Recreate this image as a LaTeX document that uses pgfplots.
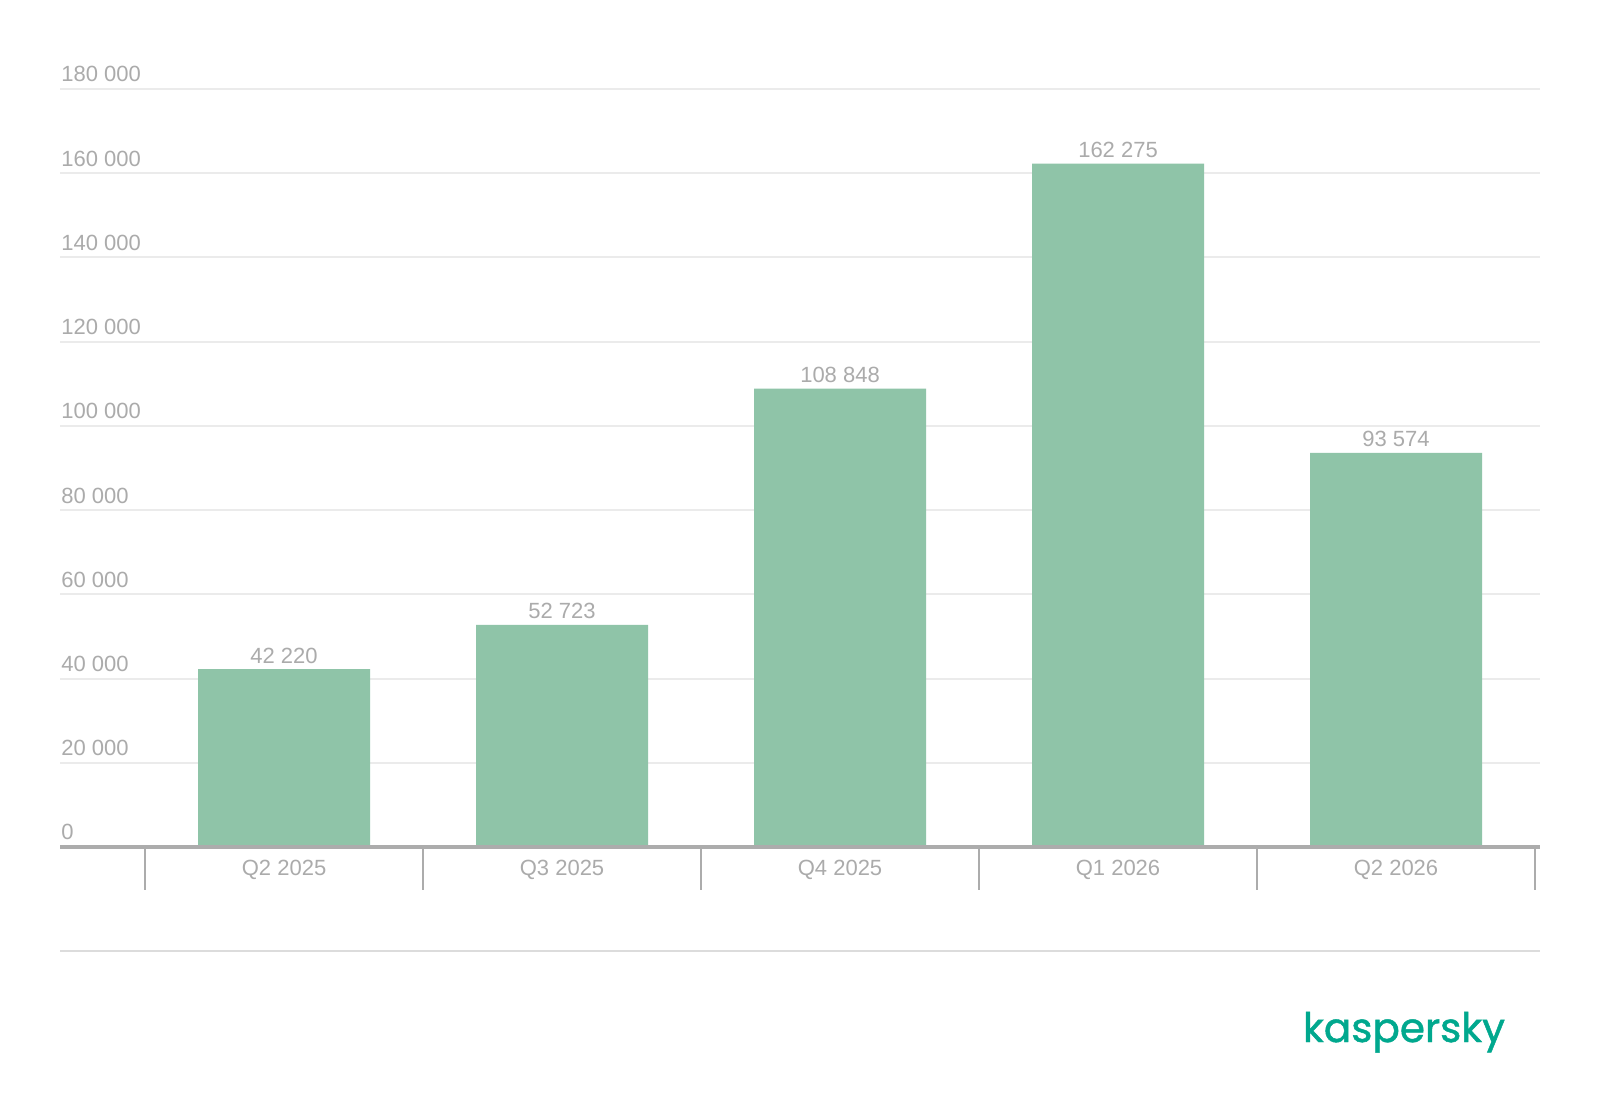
\documentclass[border=0pt]{standalone}
\usepackage{pgfplots}
\pgfplotsset{compat=1.18}
\usepackage{fontspec}
\setmainfont{Liberation Sans}
\newfontfamily\logofont{Poppins}[FakeBold=1.2]
\definecolor{bargreen}{HTML}{8FC4A8}
\definecolor{txtgray}{HTML}{ABABAB}
\definecolor{gridgray}{HTML}{EBEBEB}
\definecolor{axisgray}{HTML}{ACACAC}
\definecolor{linegray}{HTML}{DCDCDC}
\definecolor{kgreen}{HTML}{00A88E}
\begin{document}
\begin{tikzpicture}
\useasboundingbox[fill=white] (0,0) rectangle (800pt,557pt);
\begin{axis}[
  at={(30pt,133.5pt)}, anchor=south west,
  scale only axis, width=740pt, height=379pt,
  xmin=-0.806, xmax=4.518, ymin=0, ymax=180000,
  axis line style={draw=none},
  ybar, bar width=86pt,
  ytick={0,20000,...,180000},
  ymajorgrids, grid style={draw=gridgray, line width=1pt},
  scaled y ticks=false,
  /pgf/number format/assume math mode=true,
  /pgf/number format/.cd, fixed, precision=0, 1000 sep={\ },
  /pgfplots/.cd,
  yticklabel style={anchor=south west, inner sep=0pt, xshift=0.5pt, yshift=3.2pt, font=\fontsize{11}{13}\selectfont, text=txtgray},
  ytick style={draw=none},
  xtick={0,1,2,3,4},
  xticklabels={Q2 2025,Q3 2025,Q4 2025,Q1 2026,Q2 2026},
  xticklabel style={anchor=base, inner sep=0pt, yshift=-10pt, font=\fontsize{11}{13}\selectfont, text=txtgray},
  xtick style={draw=none},
  nodes near coords={\pgfmathprintnumber[fixed,precision=0,1000 sep={\ },assume math mode=true]{\pgfplotspointmeta}},
  every node near coord/.append style={font=\fontsize{11}{13}\selectfont, text=txtgray, anchor=base, inner sep=0pt, yshift=3pt},
  clip=false,
]
\addplot[fill=bargreen, draw=none] coordinates {(0,42220) (1,52723) (2,108848) (3,162275) (4,93574)};
\draw[axisgray, line width=1pt] (axis cs:-0.5,0) -- ([yshift=-21.5pt]axis cs:-0.5,0);
\draw[axisgray, line width=1pt] (axis cs:0.5,0) -- ([yshift=-21.5pt]axis cs:0.5,0);
\draw[axisgray, line width=1pt] (axis cs:1.5,0) -- ([yshift=-21.5pt]axis cs:1.5,0);
\draw[axisgray, line width=1pt] (axis cs:2.5,0) -- ([yshift=-21.5pt]axis cs:2.5,0);
\draw[axisgray, line width=1pt] (axis cs:3.5,0) -- ([yshift=-21.5pt]axis cs:3.5,0);
\draw[axisgray, line width=1pt] (axis cs:4.5,0) -- ([yshift=-21.5pt]axis cs:4.5,0);
\draw[axisgray, line width=1.85pt] (rel axis cs:0,0) -- (rel axis cs:1,0);
\end{axis}
\draw[linegray, line width=1pt] (30pt,81.65pt) -- (770pt,81.65pt);
\node[anchor=base, inner sep=0pt, text=kgreen] at (702pt,36pt) {\resizebox{101pt}{!}{\logofont kaspersky}};
\end{tikzpicture}
\end{document}
